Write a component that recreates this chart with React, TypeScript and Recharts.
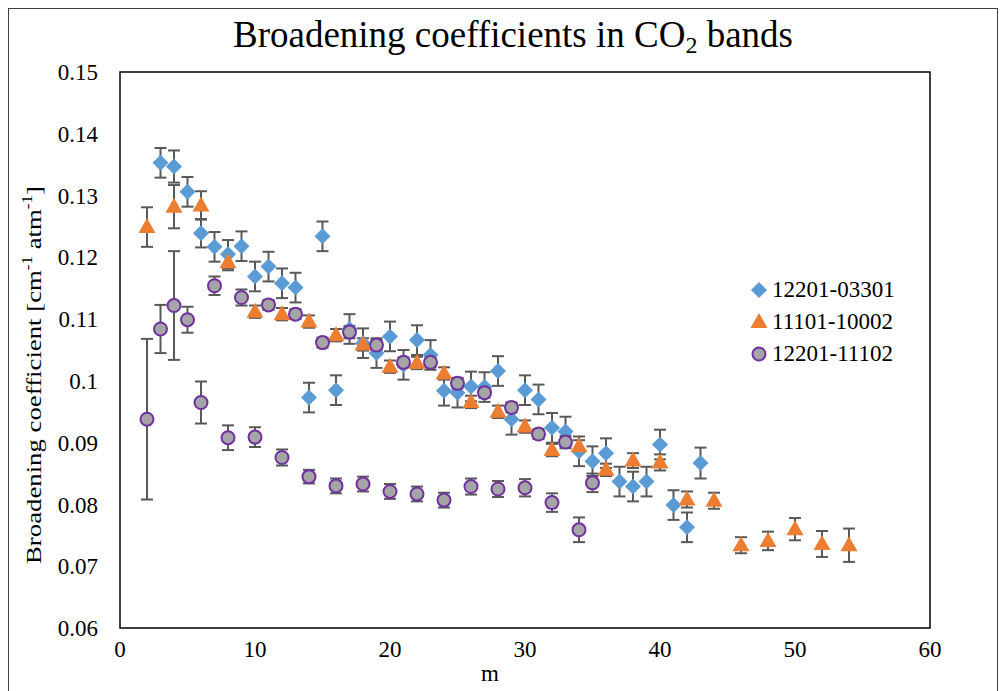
import React from 'react'
import { ScatterChart, Scatter, XAxis, YAxis, ErrorBar, ReferenceArea } from 'recharts'

const FONT = '"Liberation Serif", "DejaVu Serif", serif'

// 12201-03301
const mBlue = [3, 4, 5, 6, 7, 8, 9, 10, 11, 12, 13, 14, 15, 16, 17, 18, 19, 20, 21, 22, 23, 24, 25, 26, 27, 28, 29, 30, 31, 32, 33, 34, 35, 36, 37, 38, 39, 40, 41, 42, 43]
const gBlue = [
  0.1353, 0.1347, 0.1306, 0.1239, 0.1217, 0.1205, 0.1218, 0.1169, 0.1185, 0.1158, 0.1151,
  0.0973, 0.1234, 0.0985, 0.1084, 0.1061, 0.1045, 0.1072, 0.1026, 0.1066, 0.1042, 0.0984,
  0.0981, 0.0991, 0.099, 0.1016, 0.0938, 0.0985, 0.097, 0.0924, 0.0918, 0.0886, 0.087,
  0.0883, 0.0837, 0.0829, 0.0837, 0.0897, 0.0799, 0.0763, 0.0867,
]
const eBlue = [
  0.0024, 0.0026, 0.0024, 0.0023, 0.0024, 0.0023, 0.0024, 0.0024, 0.0024, 0.0024, 0.0024,
  0.0024, 0.0024, 0.0024, 0.0024, 0.0024, 0.0024, 0.0024, 0.0024, 0.0024, 0.0024, 0.0024,
  0.0024, 0.0024, 0.0024, 0.0024, 0.0025, 0.0024, 0.0024, 0.0024, 0.0024, 0.0024, 0.0024,
  0.0024, 0.0024, 0.0024, 0.0024, 0.0024, 0.0024, 0.0024, 0.0025,
]

// 11101-10002
const mOrange = [2, 4, 6, 8, 10, 12, 14, 16, 18, 20, 22, 24, 26, 28, 30, 32, 34, 36, 38, 40, 42, 44, 46, 48, 50, 52, 54]
const gOrange = [
  0.1249, 0.1282, 0.1284, 0.1192, 0.1112, 0.1108, 0.1096, 0.1074, 0.1059, 0.1023, 0.1029,
  0.1012, 0.0966, 0.095, 0.0926, 0.0888, 0.0894, 0.0856, 0.0871, 0.0868, 0.0808, 0.0806,
  0.0734, 0.0741, 0.076, 0.0736, 0.0734,
]
const eOrange = [
  0.0032, 0.0035, 0.0023, 0.0013, 0.001, 0.001, 0.001, 0.001, 0.001, 0.001, 0.001,
  0.001, 0.001, 0.001, 0.001, 0.001, 0.001, 0.001, 0.0012, 0.0013, 0.0013, 0.0013,
  0.0013, 0.0015, 0.0018, 0.0021, 0.0027,
]

// 12201-11102
const mPurple = [2, 3, 4, 5, 6, 7, 8, 9, 10, 11, 12, 13, 14, 15, 16, 17, 18, 19, 20, 21, 22, 23, 24, 25, 26, 27, 28, 29, 30, 31, 32, 33, 34, 35]
const gPurple = [
  0.0938, 0.1084, 0.1122, 0.1099, 0.0965, 0.1154, 0.0908, 0.1135, 0.0909, 0.1123, 0.0876,
  0.1108, 0.0845, 0.1062, 0.083, 0.1079, 0.0833, 0.1058, 0.0821, 0.103, 0.0817, 0.103,
  0.0807, 0.0996, 0.0829, 0.0981, 0.0825, 0.0957, 0.0827, 0.0914, 0.0803, 0.0901, 0.0759,
  0.0835,
]
const ePurple = [
  0.013, 0.0039, 0.0088, 0.0021, 0.0034, 0.0015, 0.002, 0.0013, 0.0016, 0.0008, 0.0013,
  0.0008, 0.0011, 0.0008, 0.0012, 0.001, 0.0012, 0.0008, 0.0012, 0.0008, 0.0012, 0.0008,
  0.0012, 0.0008, 0.0013, 0.0008, 0.0013, 0.0008, 0.0014, 0.0008, 0.0015, 0.001, 0.002,
  0.0015,
]

const xTicks = [0, 10, 20, 30, 40, 50, 60]
const yTicks = [0.06, 0.07, 0.08, 0.09, 0.1, 0.11, 0.12, 0.13, 0.14, 0.15]

const toPoints = (m: number[], g: number[], e: number[]) =>
  m.map((x, i) => ({ x, y: g[i], err: e[i] }))

const BLUE = '#5B9BD5'
const ORANGE = '#ED7D31'
const GREY = '#A5A5A5'
const PURPLE = '#7030A0'
const BAR = '#595959'

const Diamond = ({ cx, cy }: any) => (
  <path d={`M${cx},${cy - 8}L${cx + 8},${cy}L${cx},${cy + 8}L${cx - 8},${cy}Z`} fill={BLUE} />
)
const Triangle = ({ cx, cy }: any) => (
  <path d={`M${cx},${cy - 9}L${cx + 8.5},${cy + 6}L${cx - 8.5},${cy + 6}Z`} fill={ORANGE} />
)
const Ring = ({ cx, cy }: any) => (
  <circle cx={cx} cy={cy} r={6.5} fill={GREY} stroke={PURPLE} strokeWidth={2} />
)

const SERIES = [
  { name: '12201-03301', data: toPoints(mBlue, gBlue, eBlue), shape: Diamond },
  { name: '11101-10002', data: toPoints(mOrange, gOrange, eOrange), shape: Triangle },
  { name: '12201-11102', data: toPoints(mPurple, gPurple, ePurple), shape: Ring },
]

// rotated y title, stretched along its length like the Excel export
const YTitle = () => (
  <text
    transform="translate(32, 366) rotate(-90)" textAnchor="middle" fontSize={22} fill="#000"
    textLength={378} lengthAdjust="spacingAndGlyphs"
  >
    Broadening coefficient [cm
    <tspan dy={-9} fontSize={14}>-1</tspan>
    <tspan dy={9}> atm</tspan>
    <tspan dy={-9} fontSize={14}>-1</tspan>
    <tspan dy={9}>]</tspan>
  </text>
)

const XTitle = () => (
  <text x={481} y={672} textAnchor="middle" fontSize={23} fill="#000">
    m
  </text>
)

export default function App() {
  const tick = { fill: '#000', fontSize: 23 }
  return (
    <div
      style={{
        position: 'relative', width: 988, height: 690, border: '1px solid #404040',
        background: '#fff', fontFamily: FONT,
      }}
    >
      <style>{`svg text, svg tspan { font-family: ${FONT}; }`}</style>
      <div
        style={{
          position: 'absolute', left: 204, top: 4, width: 600, textAlign: 'center',
          fontSize: 37, color: '#000', whiteSpace: 'nowrap', zIndex: 1,
        }}
      >
        Broadening coefficients in CO<sub style={{ fontSize: 24, verticalAlign: -6 }}>2</sub> bands
      </div>

      <ScatterChart width={988} height={690} margin={{ top: 63, right: 67, bottom: 0, left: 0 }}>
        <XAxis
          type="number" dataKey="x" domain={[0, 60]} ticks={xTicks} interval={0}
          axisLine={false} tickLine={false} tick={tick} tickMargin={7} height={71}
          label={<XTitle />}
        />
        <YAxis
          type="number" dataKey="y" domain={[0.06, 0.15]} ticks={yTicks} interval={0}
          axisLine={false} tickLine={false} tick={tick} tickMargin={16} width={111}
          label={<YTitle />}
        />
        <ReferenceArea x1={0} x2={60} y1={0.06} y2={0.15} fill="none" stroke="#000" strokeWidth={1.5} />
        {SERIES.map((s) => (
          <Scatter key={s.name} name={s.name} data={s.data} shape={s.shape} isAnimationActive={false}>
            <ErrorBar dataKey="err" direction="y" width={6} stroke={BAR} strokeWidth={2} />
          </Scatter>
        ))}
      </ScatterChart>

      <div style={{ position: 'absolute', left: 740, top: 265, fontSize: 23, color: '#000' }}>
        {SERIES.map((s) => (
          <div key={s.name} style={{ display: 'flex', alignItems: 'center', height: 32 }}>
            <svg width={20} height={20} style={{ marginRight: 3 }}>
              <s.shape cx={10} cy={10} />
            </svg>
            {s.name}
          </div>
        ))}
      </div>
    </div>
  )
}
